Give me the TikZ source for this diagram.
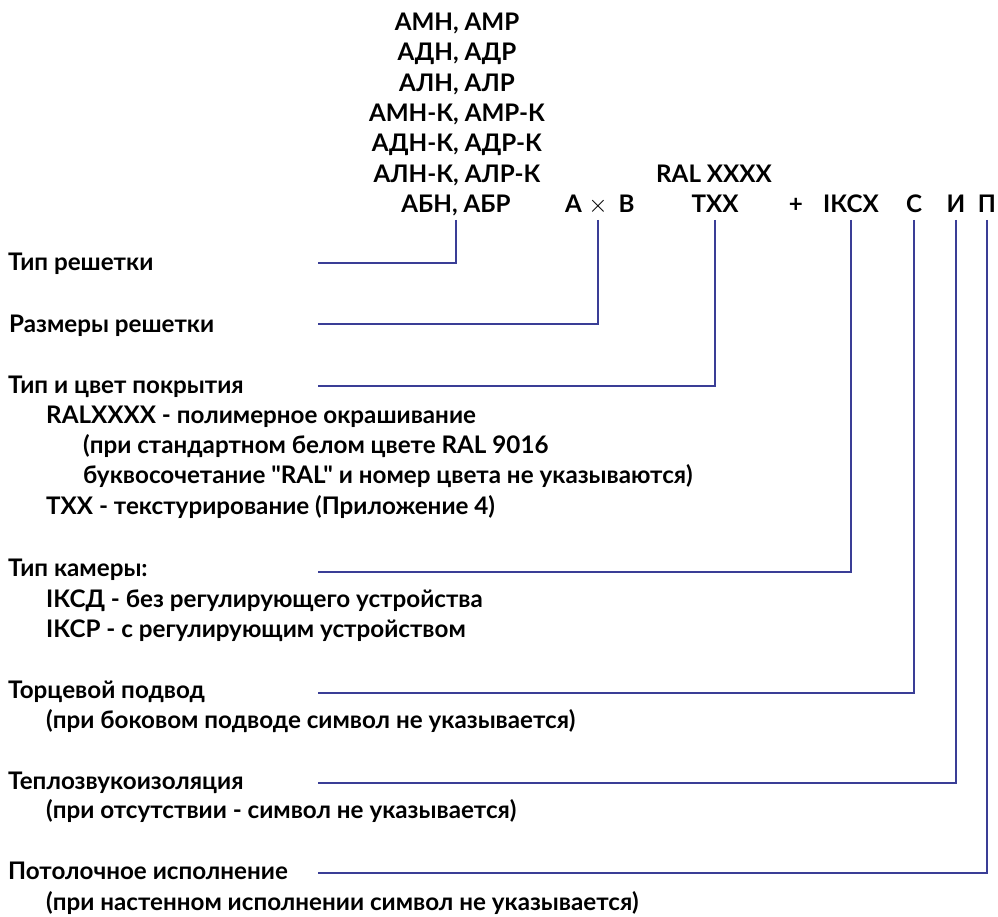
\documentclass[tikz,border=0pt]{standalone}
\usepackage{fontspec}
\setmainfont{Lato}[Ligatures=TeXOff]
\usetikzlibrary{calc}
\definecolor{lineblue}{RGB}{58,62,150}
\begin{document}
\begin{tikzpicture}[x=1pt,y=-1pt,
  lbl/.style={anchor=base west,inner sep=0pt,font=\fontsize{24.2}{28}\selectfont\bfseries},
  top/.style={anchor=base,inner sep=0pt,font=\fontsize{24.2}{28}\selectfont\bfseries},
  conn/.style={draw=lineblue,line width=2.2pt}]
\useasboundingbox (0,0) rectangle (998,917);
% top code column
\node[top] (t1) at (457,30.5) {АМН, АМР};
\node[top] (t2) at (457,60.8) {АДН, АДР};
\node[top] (t3) at (457,91.2) {АЛН, АЛР};
\node[top] (t4) at (457,121.5) {АМН-К, АМР-К};
\node[top] (t5) at (457,151.8) {АДН-К, АДР-К};
\node[top] (t6) at (457,182.2) {АЛН-К, АЛР-К};
\node[top] (abn) at (456,212.5) {АБН, АБР};
\node[top] (ca) at (573.5,212.5) {А};
\node[top] (times) at (598,212.5) {$\times$};
\node[top] (cb) at (626.5,212.5) {В};
\node[top] (ral) at (714,182.2) {RAL XXXX};
\node[top] (txx) at (715,212.5) {TXX};
\node[top] (plus) at (796,212.5) {+};
\node[top] (ikcx) at (851,212.5) {IКСХ};
\node[top] (cs) at (914,212.5) {С};
\node[top] (ci) at (956,212.5) {И};
\node[top] (cp) at (987,212.5) {П};
% left labels
\node[lbl] (l1) at (8,270.5) {Тип решетки};
\node[lbl] (l2) at (9,332.5) {Размеры решетки};
\node[lbl] (l3) at (8,393.5) {Тип и цвет покрытия};
\node[lbl] (l3a) at (46,423.5) {RALXXXX - полимерное окрашивание};
\node[lbl] (l3b) at (83,453.5) {(при стандартном белом цвете RAL 9016};
\node[lbl] (l3c) at (83,483.5) {буквосочетание "RAL" и номер цвета не указываются)};
\node[lbl] (l3d) at (46,514) {TXX - текстурирование (Приложение 4)};
\node[lbl] (l4) at (8,576) {Тип камеры:};
\node[lbl] (l4a) at (46,607) {IКСД - без регулирующего устройства};
\node[lbl] (l4b) at (46,637) {IКСР - с регулирующим устройством};
\node[lbl] (l5) at (8,698) {Торцевой подвод};
\node[lbl] (l5a) at (46,728) {(при боковом подводе символ не указывается)};
\node[lbl] (l6) at (8,789) {Теплозвукоизоляция};
\node[lbl] (l6a) at (46,818) {(при отсутствии - символ не указывается)};
\node[lbl] (l7) at (8,879) {Потолочное исполнение};
\node[lbl] (l7a) at (46,910) {(при настенном исполнении символ не указывается)};
% connector ends
\coordinate (e1) at (318,263);
\coordinate (e2) at (318,324);
\coordinate (e3) at (318,386);
\coordinate (e4) at (318,572);
\coordinate (e5) at (318,693);
\coordinate (e6) at (318,783);
\coordinate (e7) at (318,873);
\draw[conn] ([yshift=-7.5pt]abn.base) |- (e1);
\draw[conn] ([yshift=-7.5pt]times.base) |- (e2);
\draw[conn] ([yshift=-7.5pt]txx.base) |- (e3);
\draw[conn] ([yshift=-7.5pt]ikcx.base) |- (e4);
\draw[conn] ([yshift=-7.5pt]cs.base) |- (e5);
\draw[conn] ([yshift=-7.5pt]ci.base) |- (e6);
\draw[conn] ([yshift=-7.5pt]cp.base) |- (e7);
\end{tikzpicture}
\end{document}
